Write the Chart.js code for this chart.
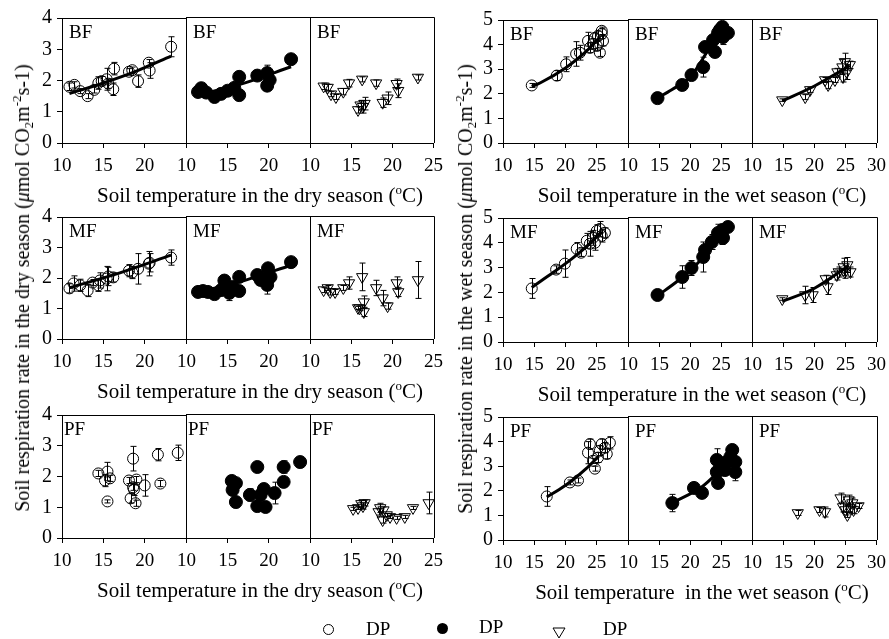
<!DOCTYPE html>
<html>
<head>
<meta charset="utf-8">
<script src="https://cdn.jsdelivr.net/npm/chart.js@4.4.1/dist/chart.umd.min.js"></script>
<style>
  body { margin: 0; background: #fff; }
  #page { position: relative; width: 889px; height: 639px; overflow: hidden; font-family: "Liberation Serif", "Times New Roman", serif; color: #000; }
  #page canvas { position: absolute; }
  .txt { position: absolute; white-space: nowrap; font-size: 19px; line-height: 20px; }
  .txt sup { font-size: 13px; line-height: 0; vertical-align: 8px; }
  .txt sub { font-size: 13px; line-height: 0; vertical-align: -4px; }
  .ytitle { transform: translate(-50%, -50%) rotate(-90deg); font-size: 20px; }
  .xtitle { transform: translateX(-50%); font-size: 21px; line-height: 22px; }
</style>
</head>
<body>
<div id="page"></div>
<script>
// ---- data: [soil temperature, respiration rate, error] ----
const bfDryOpen = [[10.9,1.80,0.12],[11.5,1.86,0.1],[12.2,1.66,0.08],[13.1,1.50,0.08],[13.9,1.70,0.1],[14.4,1.92,0.2],[14.8,1.98,0.15],[15.4,2.04,0.35],[15.6,1.90,0.15],[16.2,1.72,0.2],[16.3,2.38,0.2],[18.1,2.28,0.1],[18.5,2.33,0.1],[19.2,1.98,0.2],[20.5,2.57,0.1],[20.6,2.32,0.25],[23.2,3.08,0.32]];
const bfDryFilled = [[11.4,1.62,0.1],[11.8,1.74,0.08],[12.4,1.60,0.08],[13.4,1.46,0.08],[14.2,1.56,0.08],[15.0,1.66,0.1],[15.8,1.75,0.1],[16.4,1.52,0.1],[16.4,2.10,0.1],[18.6,2.14,0.1],[19.8,2.22,0.25],[19.8,1.82,0.1],[20.1,2.00,0.1],[22.7,2.66,0.1]];
const bfDryTri = [[11.6,1.80,0.1],[12.1,1.76,0.1],[12.5,1.55,0.08],[13.1,1.46,0.08],[14.0,1.63,0.1],[14.7,1.90,0.12],[15.8,1.05,0.1],[16.1,1.20,0.15],[16.4,1.15,0.2],[16.6,1.25,0.2],[16.3,2.02,0.08],[18.0,1.90,0.1],[18.8,1.28,0.15],[19.4,1.42,0.2],[20.5,1.88,0.15],[20.7,1.66,0.22],[23.1,2.08,0.08]];
const bfWetOpen = [[14.6,2.34,0.08],[18.6,2.74,0.2],[20.1,3.20,0.3],[21.7,3.62,0.5],[22.3,3.67,0.3],[23.6,4.15,0.35],[23.9,3.87,0.2],[24.4,4.03,0.2],[24.7,4.27,0.2],[25.0,3.95,0.2],[25.2,4.35,0.2],[25.5,3.67,0.15],[25.8,4.56,0.15],[25.8,4.44,0.2],[26.0,4.15,0.2]];
const bfWetFilled = [[14.7,1.81,0.08],[18.7,2.34,0.1],[20.2,2.74,0.1],[22.1,3.06,0.4],[22.4,3.87,0.1],[24.0,3.67,0.2],[23.7,4.15,0.2],[24.5,4.44,0.2],[25.2,4.68,0.2],[25.6,4.48,0.3],[26.1,4.44,0.1],[24.8,4.56,0.2],[25.3,4.27,0.3]];
const bfWetTri = [[14.8,1.73,0.05],[18.5,1.85,0.1],[19.3,2.14,0.1],[21.7,2.54,0.1],[22.2,2.34,0.15],[23.3,2.54,0.1],[23.7,2.86,0.15],[24.5,3.06,0.3],[24.9,3.27,0.35],[25.2,2.86,0.3],[25.7,3.15,0.15],[24.6,2.66,0.2]];

const mfDryOpen = [[10.9,1.66,0.15],[11.4,1.82,0.25],[12.2,1.76,0.2],[13.1,1.59,0.2],[13.7,1.85,0.1],[14.4,1.76,0.2],[14.6,1.92,0.25],[15.4,1.98,0.4],[15.6,2.05,0.3],[16.2,2.02,0.15],[18.1,2.24,0.2],[18.5,2.18,0.2],[19.2,2.30,0.5],[20.5,2.47,0.4],[20.6,2.50,0.3],[23.2,2.67,0.25]];
const mfDryFilled = [[11.4,1.53,0.05],[12.0,1.56,0.05],[12.6,1.53,0.05],[13.4,1.46,0.05],[14.2,1.59,0.1],[14.6,1.90,0.1],[15.2,1.50,0.25],[15.6,1.69,0.1],[16.4,1.56,0.1],[16.4,2.02,0.1],[18.6,2.08,0.1],[19.0,1.92,0.1],[19.8,1.98,0.1],[19.9,2.30,0.1],[19.8,1.76,0.3],[20.2,2.02,0.1],[22.7,2.50,0.05]];
const mfDryTri = [[11.6,1.59,0.08],[12.1,1.66,0.08],[12.4,1.53,0.1],[13.0,1.53,0.08],[14.0,1.66,0.08],[14.7,1.82,0.2],[16.3,2.02,0.45],[15.8,1.01,0.05],[16.0,1.00,0.08],[16.5,1.20,0.2],[16.5,0.88,0.15],[18.0,1.66,0.25],[18.8,1.33,0.25],[19.4,1.07,0.1],[20.5,1.82,0.2],[20.7,1.53,0.15],[23.1,1.92,0.6]];
const mfWetOpen = [[14.6,2.16,0.4],[18.5,2.92,0.15],[19.9,3.16,0.55],[21.8,3.76,0.25],[22.5,3.60,0.15],[23.4,4.08,0.3],[23.9,3.96,0.5],[24.4,4.20,0.3],[24.7,4.00,0.3],[25.0,4.48,0.25],[25.5,4.56,0.3],[25.8,4.28,0.25],[26.3,4.40,0.2]];
const mfWetFilled = [[14.7,1.88,0.05],[18.7,2.60,0.45],[20.2,2.96,0.3],[22.1,3.40,0.6],[22.4,3.68,0.1],[23.5,4.00,0.3],[24.5,4.36,0.35],[25.2,4.20,0.3],[25.3,4.16,0.2],[25.2,4.48,0.2],[26.1,4.60,0.1]];
const mfWetTri = [[14.8,1.72,0.05],[18.5,1.88,0.35],[19.7,1.88,0.3],[22.1,2.20,0.3],[21.8,2.52,0.15],[23.6,2.68,0.2],[23.9,2.80,0.2],[24.7,3.00,0.35],[25.3,3.08,0.3],[25.8,2.80,0.2],[24.9,2.80,0.25]];

const pfDryOpen = [[14.4,2.10,0.1],[15.2,1.87,0.2],[15.5,2.16,0.3],[15.8,1.94,0.1],[15.5,1.19,0.05],[18.1,1.87,0.1],[18.3,1.29,0.15],[18.6,2.58,0.4],[18.6,1.65,0.1],[18.7,1.58,0.2],[18.9,1.13,0.1],[19.0,1.90,0.1],[20.0,1.71,0.35],[21.6,2.71,0.2],[21.9,1.77,0.1],[24.0,2.77,0.25]];
const pfDryFilled = [[15.5,1.84,0.05],[16.0,1.77,0.05],[15.6,1.55,0.1],[16.0,1.16,0.05],[17.7,1.39,0.2],[18.6,2.29,0.1],[18.6,1.03,0.1],[19.0,1.39,0.1],[19.4,1.58,0.1],[19.6,1.00,0.05],[20.7,1.45,0.35],[21.8,2.29,0.2],[21.8,1.81,0.1],[23.8,2.45,0.05]];
const pfDryTri = [[15.2,0.94,0.05],[15.8,0.97,0.05],[16.2,1.10,0.12],[16.4,1.03,0.1],[16.6,1.13,0.1],[18.3,0.84,0.1],[18.5,0.97,0.15],[18.8,0.58,0.1],[18.9,0.90,0.1],[19.3,0.74,0.05],[19.7,0.68,0.05],[20.5,0.65,0.05],[21.5,0.68,0.05],[22.5,0.97,0.05],[24.4,1.13,0.35]];
const pfWetOpen = [[17.0,1.77,0.4],[20.7,2.34,0.1],[22.0,2.42,0.1],[23.6,3.55,0.45],[23.9,3.90,0.2],[24.4,3.22,0.1],[24.7,2.90,0.1],[25.2,3.35,0.2],[25.8,3.90,0.2],[26.3,3.75,0.2],[27.1,3.95,0.25],[26.6,3.50,0.2],[25.5,3.63,0.2]];
const pfWetFilled = [[17.1,1.49,0.35],[20.6,2.10,0.05],[21.9,1.90,0.05],[24.3,3.23,0.45],[24.3,2.74,0.1],[24.5,2.30,0.1],[25.6,2.82,0.1],[25.9,3.15,0.1],[26.8,3.63,0.1],[26.5,3.35,0.1],[27.3,3.15,0.1],[27.3,2.74,0.35],[25.2,3.02,0.1]];
const pfWetTri = [[17.3,1.09,0.1],[20.8,1.21,0.1],[21.7,1.13,0.2],[24.2,1.69,0.2],[24.6,1.33,0.2],[25.3,1.01,0.1],[25.5,1.61,0.2],[26.1,1.49,0.2],[26.3,1.21,0.15],[27.1,1.37,0.1],[25.8,1.29,0.2],[25.0,1.21,0.2]];

// fitted curves
const bfDryOpenFit = [[10.9,1.58],[15,1.92],[19,2.3],[23.2,2.78]];
const bfDryFilledFit = [[11.4,1.52],[17,1.9],[22.7,2.42]];
const bfWetOpenFit = [[14.6,2.3],[16,2.45],[20,3.05],[23,3.65],[25.5,4.3]];
const bfWetFilledFit = [[14.7,1.82],[17,2.15],[20,2.66],[22.4,3.55],[25.2,4.8]];
const bfWetTriFit = [[14.8,1.7],[20,2.3],[25.7,3.12]];
const mfDryOpenFit = [[10.9,1.68],[17,2.17],[23.2,2.75]];
const mfDryFilledFit = [[11.4,1.52],[17,1.9],[22.7,2.4]];
const mfWetOpenFit = [[14.6,2.2],[18,2.8],[21,3.35],[24,4.0],[25.8,4.45]];
const mfWetFilledFit = [[14.7,1.85],[18,2.45],[21,3.1],[24,3.95],[26.1,4.62]];
const mfWetTriFit = [[14.8,1.62],[20,2.15],[25.5,3.05]];
const pfWetOpenFit = [[17,1.75],[19,2.05],[21.2,2.45],[23.3,2.9],[25.3,3.4]];
const pfWetFilledFit = [[17.1,1.5],[21.9,2.15],[25.2,2.9]];

const rowLabels = ['BF', 'MF', 'PF'];
const dryTicksX = [10, 15, 20, 25];
const wetTicksX = [10, 15, 20, 25, 30];
const dryTicksY = [0, 1, 2, 3, 4];
const wetTicksY = [0, 1, 2, 3, 4, 5];

// ---- layout of the two groups of panels ----
const FONT = '"Liberation Serif", "Times New Roman", serif';
const GROUPS = [
  { edges: [62, 186, 310, 434], rows: [[17, 143], [216, 339], [414, 538]], xt: dryTicksX, yt: dryTicksY,
    title: 'Soil temperature in the dry season (<sup>o</sup>C)', cx: 260 },
  { edges: [503, 628, 752, 877], rows: [[19, 143], [217, 342], [416, 540]], xt: wetTicksX, yt: wetTicksY,
    title: 'Soil temperature in the wet season (<sup>o</sup>C)', cx: 702 }
];

const PANELS = [
  [bfDryOpen, bfDryOpenFit, bfDryFilled, bfDryFilledFit, bfDryTri, null],
  [mfDryOpen, mfDryOpenFit, mfDryFilled, mfDryFilledFit, mfDryTri, null],
  [pfDryOpen, null, pfDryFilled, null, pfDryTri, null],
  [bfWetOpen, bfWetOpenFit, bfWetFilled, bfWetFilledFit, bfWetTri, bfWetTriFit],
  [mfWetOpen, mfWetOpenFit, mfWetFilled, mfWetFilledFit, mfWetTri, mfWetTriFit],
  [pfWetOpen, pfWetOpenFit, pfWetFilled, pfWetFilledFit, pfWetTri, null]
];

const MARKERS = [
  { pointStyle: 'circle', pointRadius: 5.5, backgroundColor: 'rgba(0,0,0,0)', borderColor: '#000', borderWidth: 1 },
  { pointStyle: 'circle', pointRadius: 6.5, backgroundColor: '#000', borderColor: '#000', borderWidth: 1 },
  { pointStyle: 'triangle', rotation: 180, pointRadius: 6.5, backgroundColor: 'rgba(0,0,0,0)', borderColor: '#000', borderWidth: 1 }
];

const page = document.getElementById('page');

function addText(html, cls, left, top) {
  const d = document.createElement('div');
  d.className = 'txt ' + cls;
  d.innerHTML = html;
  d.style.left = left + 'px';
  d.style.top = top + 'px';
  page.appendChild(d);
  return d;
}

// error bars and frame, drawn from the chart's own scales
const errorBars = {
  id: 'errorBars',
  beforeDatasetsDraw(chart) {
    const ctx = chart.ctx, xs = chart.scales.x, ys = chart.scales.y;
    ctx.save();
    ctx.strokeStyle = '#000';
    ctx.lineWidth = 1;
    chart.data.datasets.forEach(ds => {
      if (!ds.errs) return;
      ds.data.forEach((p, i) => {
        const e = ds.errs[i];
        const x = Math.round(xs.getPixelForValue(p.x)) + 0.5;
        const y1 = ys.getPixelForValue(p.y - e), y2 = ys.getPixelForValue(p.y + e);
        ctx.beginPath();
        ctx.moveTo(x, y1); ctx.lineTo(x, y2);
        ctx.moveTo(x - 3, y1); ctx.lineTo(x + 3, y1);
        ctx.moveTo(x - 3, y2); ctx.lineTo(x + 3, y2);
        ctx.stroke();
      });
    });
    ctx.restore();
  },
  afterDraw(chart) {
    const a = chart.chartArea, ctx = chart.ctx;
    ctx.save();
    ctx.strokeStyle = '#000';
    ctx.lineWidth = 1;
    ctx.beginPath();
    ctx.moveTo(Math.round(a.left), Math.round(a.top) + 0.5);
    ctx.lineTo(Math.round(a.right) + 0.5, Math.round(a.top) + 0.5);
    ctx.lineTo(Math.round(a.right) + 0.5, Math.round(a.bottom));
    ctx.stroke();
    ctx.restore();
  }
};

function makePanel(gi, r, c) {
  const g = GROUPS[gi];
  const pl = g.edges[c], pr = g.edges[c + 1];
  const [pt, pb] = g.rows[r];
  const xmin = g.xt[0], xmax = g.xt[g.xt.length - 1];
  const ymax = g.yt[g.yt.length - 1];
  const yW = c === 0 ? 44 : 0, xH = 32, pad = 16;
  const series = PANELS[gi * 3 + r];
  const pts = series[c * 2], fit = series[c * 2 + 1];
  const last = c === 2;

  const cv = document.createElement('canvas');
  cv.width = pr - pl + yW + 2 * pad;
  cv.height = pb - pt + xH + 2 * pad;
  cv.style.left = (pl - yW - pad) + 'px';
  cv.style.top = (pt - pad) + 'px';
  page.appendChild(cv);

  const datasets = [Object.assign({
    type: 'scatter',
    data: pts.map(p => ({ x: p[0], y: p[1] })),
    errs: pts.map(p => p[2]),
    clip: false
  }, MARKERS[c])];
  if (fit) {
    datasets.push({
      type: 'line',
      data: fit.map(p => ({ x: p[0], y: p[1] })),
      borderColor: '#000', borderWidth: 3, pointRadius: 0,
      cubicInterpolationMode: 'monotone', fill: false, clip: false
    });
  }

  new Chart(cv, {
    type: 'scatter',
    data: { datasets },
    options: {
      responsive: false, animation: false, events: [],
      layout: { padding: { left: pad, right: pad, top: pad, bottom: pad } },
      plugins: { legend: { display: false }, tooltip: { enabled: false } },
      scales: {
        x: {
          type: 'linear', min: xmin, max: xmax,
          afterFit: s => { s.height = xH; },
          afterBuildTicks: s => { s.ticks = g.xt.map(v => ({ value: v })); },
          ticks: {
            color: '#000', font: { family: FONT, size: 19 }, padding: 7, maxRotation: 0, autoSkip: false,
            callback: v => (v === xmax && !last) ? '' : v
          },
          grid: { drawOnChartArea: false, color: '#000', tickLength: 5 },
          border: { color: '#000', width: 1 }
        },
        y: {
          type: 'linear', min: 0, max: ymax,
          afterFit: s => { s.width = yW; },
          afterBuildTicks: s => { s.ticks = g.yt.map(v => ({ value: v })); },
          ticks: { display: c === 0, autoSkip: false, color: '#000', font: { family: FONT, size: 20 }, padding: 5 },
          grid: { drawOnChartArea: false, drawTicks: c === 0, color: '#000', tickLength: 5 },
          border: { color: '#000', width: 1 }
        }
      }
    },
    plugins: [errorBars]
  });

  const lab = rowLabels[r];
  const dx = (lab === 'PF' && gi === 0) ? 2 : 7;
  addText(lab, '', pl + dx, pt + 5);
}

for (let gi = 0; gi < 2; gi++) {
  for (let r = 0; r < 3; r++) {
    for (let c = 0; c < 3; c++) makePanel(gi, r, c);
    const g = GROUPS[gi];
    let t = g.title;
    if (gi === 1 && r === 2) t = t.replace('temperature in', 'temperature&nbsp; in');
    addText(t, 'xtitle', g.cx, g.rows[r][1] + 41);
  }
}

addText('Soil respiration rate in the dry season (<i>μ</i>mol CO<sub>2</sub>m<sup>-2</sup>s-1)', 'ytitle', 22, 288);
addText('Soil respiration rate in the wet season (<i>μ</i>mol CO<sub>2</sub>m<sup>-2</sup>s-1)', 'ytitle', 465, 289);

// legend
const legY = 629;
const o = addText('', '', 323, legY - 5);
o.style.cssText += 'width:9px;height:9px;border:1px solid #000;border-radius:50%;';
const f = addText('', '', 437, legY - 6);
f.style.cssText += 'width:11px;height:11px;background:#000;border-radius:50%;';
addText('<svg width="14" height="12"><polygon points="1,1 13,1 7,11" fill="none" stroke="#000" stroke-width="1"/></svg>', '', 552, legY - 6);
addText('DP', '', 366, legY - 10);
addText('DP', '', 479, legY - 12);
addText('DP', '', 603, legY - 10);
</script>
</body>
</html>
